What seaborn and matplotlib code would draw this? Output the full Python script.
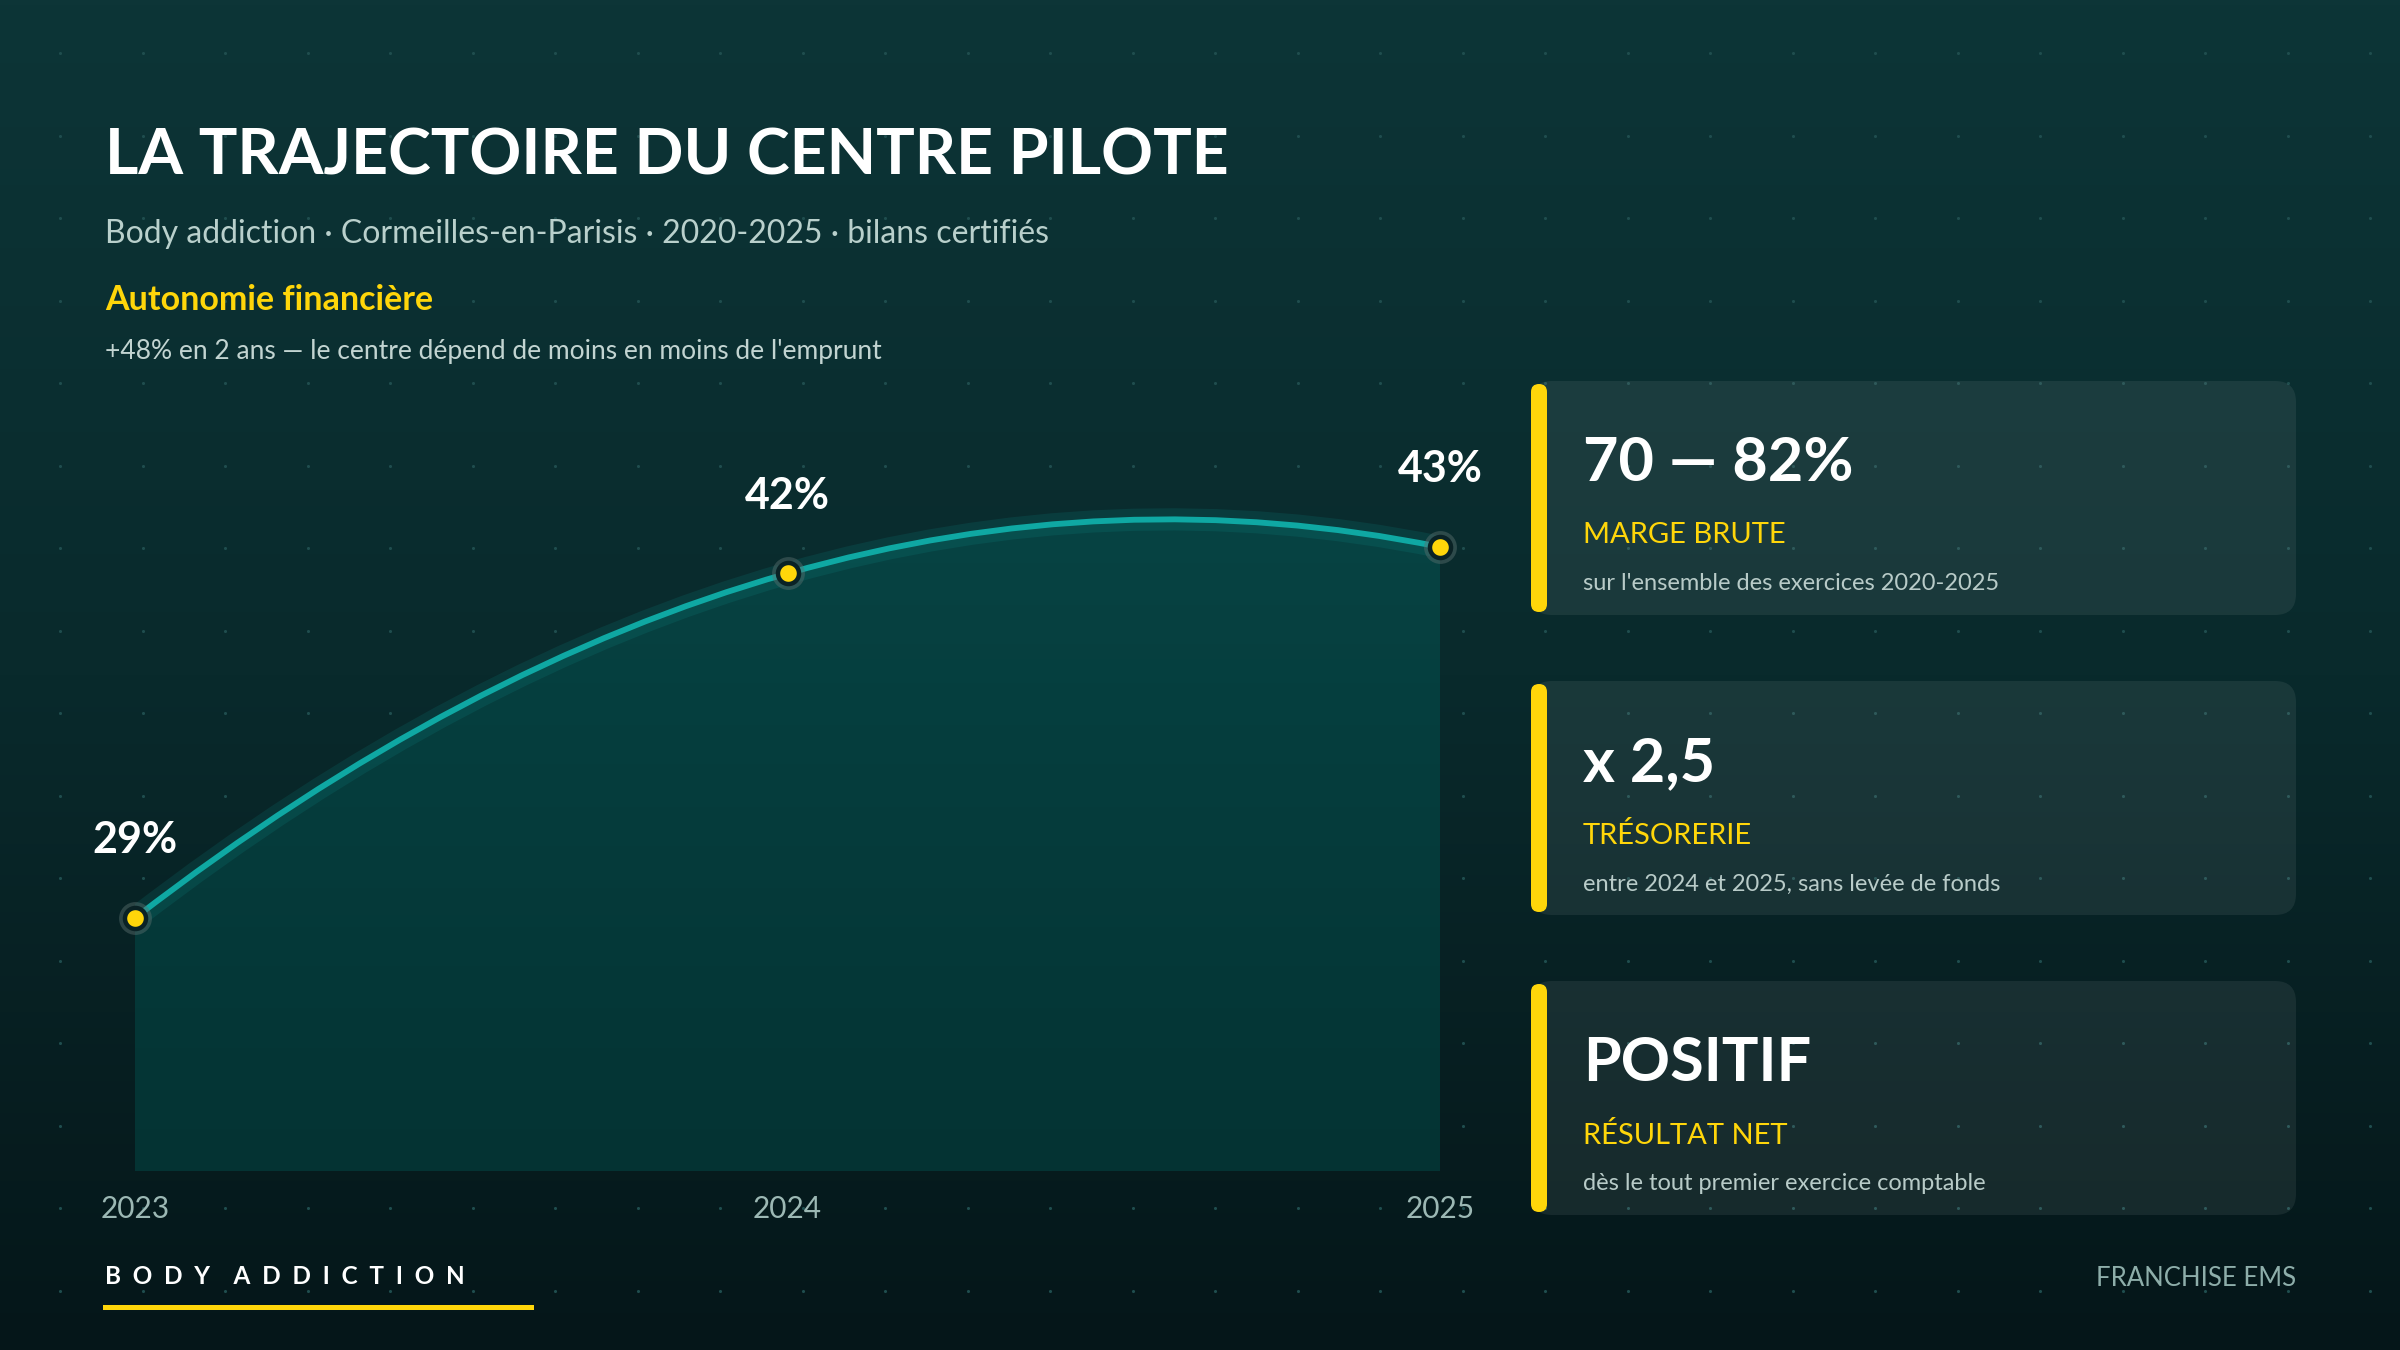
import numpy as np
import matplotlib
matplotlib.use("Agg")
import matplotlib.pyplot as plt
from matplotlib.colors import LinearSegmentedColormap
from matplotlib.patches import FancyBboxPatch, PathPatch, Rectangle
from matplotlib.path import Path
import seaborn as sns

# data
years = [2023, 2024, 2025]
autonomie = [29, 42, 43]
value_labels = ["29%", "42%", "43%"]

card_values = ["70 — 82%", "x 2,5", "POSITIF"]
card_titles = ["MARGE BRUTE", "TRÉSORERIE", "RÉSULTAT NET"]
card_notes = [
    "sur l'ensemble des exercices 2020-2025",
    "entre 2024 et 2025, sans levée de fonds",
    "dès le tout premier exercice comptable",
]

W, H = 2400, 1350
YELLOW = "#FFD60A"
TEAL = "#0fa8a3"

sns.set_theme(style="white")
plt.rcParams["font.family"] = ["Lato", "DejaVu Sans"]

fig = plt.figure(figsize=(24, 13.5), dpi=100)

# background layer in pixel coords
bg = fig.add_axes([0, 0, 1, 1])
bg.set_xlim(0, W)
bg.set_ylim(H, 0)
bg.axis("off")
grad = np.linspace(0, 1, 256)[:, None]
bg_cmap = LinearSegmentedColormap.from_list("bg", ["#0d3537", "#092a2c", "#051619"])
bg.imshow(grad, cmap=bg_cmap, extent=[0, W, H, 0], aspect="auto", zorder=0)

dot_x = np.arange(60, W, 82.5)
dot_y = np.arange(53, H, 82.5)
gx, gy = np.meshgrid(dot_x, dot_y)
bg.scatter(gx.ravel(), gy.ravel(), s=5, color="#1f4d4e", linewidths=0, zorder=1)

# header
bg.text(105, 156, "LA TRAJECTOIRE DU CENTRE PILOTE", color="white", fontsize=46.4,
        fontweight="bold", va="center", ha="left", zorder=5)
bg.text(105, 234, "Body addiction · Cormeilles-en-Parisis · 2020-2025 · bilans certifiés",
        color="#b9d0cc", fontsize=23, va="center", ha="left", zorder=5)
bg.text(105, 300, "Autonomie financière", color=YELLOW, fontsize=24.5,
        fontweight="bold", va="center", ha="left", zorder=5)
bg.text(105, 352, "+48% en 2 ans — le centre dépend de moins en moins de l'emprunt",
        color="#c2d4d1", fontsize=19, va="center", ha="left", zorder=5)

# cards
card_tops = [381, 681, 981]
for top, val, title, note in zip(card_tops, card_values, card_titles, card_notes):
    card = FancyBboxPatch((1531, top), 765, 234, boxstyle="round,pad=0,rounding_size=21",
                          facecolor="white", alpha=0.07, edgecolor="none", zorder=2)
    bg.add_patch(card)
    bar = FancyBboxPatch((1531, top + 3), 16, 228, boxstyle="round,pad=0,rounding_size=8",
                         facecolor=YELLOW, edgecolor="none", zorder=3)
    bg.add_patch(bar)
    bg.text(1583, top + 82, val, color="white", fontsize=44, fontweight="bold",
            va="center", ha="left", zorder=5)
    bg.text(1583, top + 154, title, color=YELLOW, fontsize=21,
            va="center", ha="left", zorder=5)
    bg.text(1583, top + 203, note, color="#b8cbc8", fontsize=17,
            va="center", ha="left", zorder=5)

# footer
bg.text(105, 1277, "B  O  D  Y    A  D  D  I  C  T  I  O  N", color="white", fontsize=17.5,
        fontweight="bold", va="center", ha="left", zorder=5)
bg.add_patch(Rectangle((103, 1305), 431, 5, facecolor=YELLOW, edgecolor="none", zorder=5))
bg.text(2296, 1278, "FRANCHISE EMS", color="#8eaeaa", fontsize=18.5,
        va="center", ha="right", zorder=5)

# chart
x0, x1, ybase, ytop_px = 135, 1440, 1171, 400
ppu = 26.5
ymin = 19.45
ymax = ymin + (ybase - ytop_px) / ppu
ax = fig.add_axes([x0 / W, (H - ybase) / H, (x1 - x0) / W, (ybase - ytop_px) / H])
ax.set_facecolor("none")
ax.set_xlim(years[0], years[-1])
ax.set_ylim(ymin, ymax)
for s in ax.spines.values():
    s.set_visible(False)
ax.set_yticks([])
ax.set_xticks(years)
ax.set_xticklabels([str(y) for y in years], color="#9cb8b4", fontsize=21.5)
ax.tick_params(axis="x", length=0, pad=17)
ax.grid(False)

ctrl = 2 * autonomie[1] - (autonomie[0] + autonomie[2]) / 2
curve = Path([(years[0], autonomie[0]), (years[1], ctrl), (years[2], autonomie[2])],
             [Path.MOVETO, Path.CURVE3, Path.CURVE3])
area = Path([(years[0], autonomie[0]), (years[1], ctrl), (years[2], autonomie[2]),
             (years[2], ymin), (years[0], ymin), (years[0], autonomie[0])],
            [Path.MOVETO, Path.CURVE3, Path.CURVE3, Path.LINETO, Path.LINETO, Path.CLOSEPOLY])

area_patch = PathPatch(area, facecolor="none", edgecolor="none")
ax.add_patch(area_patch)
fill_cmap = LinearSegmentedColormap.from_list("fill", ["#074646", "#043333"])
im = ax.imshow(grad, cmap=fill_cmap, extent=[years[0], years[-1], ymin, ymax],
               aspect="auto", zorder=1)
im.set_clip_path(area_patch)

ax.add_patch(PathPatch(curve, fill=False, edgecolor=TEAL, lw=16, alpha=0.13, zorder=2))
ax.add_patch(PathPatch(curve, fill=False, edgecolor=TEAL, lw=4.2, zorder=3,
                       capstyle="round"))

sns.scatterplot(x=years, y=autonomie, ax=ax, s=560, color="#5a6f6e", alpha=0.45,
                linewidth=0, zorder=4, clip_on=False)
sns.scatterplot(x=years, y=autonomie, ax=ax, s=230, color=YELLOW, edgecolor="#0a2225",
                linewidth=3.2, zorder=5, clip_on=False)

for x, y, lab in zip(years, autonomie, value_labels):
    ax.annotate(lab, (x, y), xytext=(0, 56), textcoords="offset points", ha="center",
                va="center", color="white", fontsize=31, fontweight="bold", zorder=6,
                annotation_clip=False)

fig.savefig("out.png", dpi=100, facecolor=fig.get_facecolor())
